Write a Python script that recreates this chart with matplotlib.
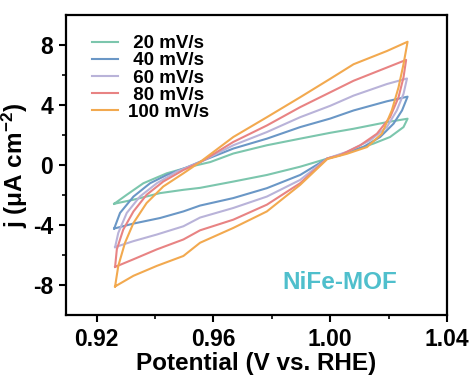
import matplotlib
matplotlib.use("Agg")
import matplotlib.pyplot as plt
import matplotlib.ticker as mticker

# -- Style --
plt.rcParams["font.family"] = ["Liberation Sans", "DejaVu Sans"]
plt.rcParams["font.weight"] = "bold"
plt.rcParams["axes.unicode_minus"] = False
plt.rcParams["mathtext.fontset"] = "custom"
plt.rcParams["mathtext.bf"] = "Liberation Sans:bold"
plt.rcParams["mathtext.rm"] = "Liberation Sans:bold"
plt.rcParams["mathtext.default"] = "bf"

# -- Data: CV loops (anodic branch left->right, then cathodic branch right->left) --
SCAN_LABELS = [" 20 mV/s", " 40 mV/s", " 60 mV/s", " 80 mV/s", "100 mV/s"]
COLORS = ["#7cc6ad", "#6a97c6", "#b9b3d9", "#e88383", "#f2a94f"]

v20 = [0.9260, 0.9303, 0.9360, 0.9440, 0.9520, 0.9589, 0.9668, 0.9783, 0.9897, 1.0000, 1.0080, 1.0194, 1.0265,
       1.0251, 1.0205, 1.0148, 1.0080, 1.0011, 0.9897, 0.9783, 0.9668, 0.9554, 0.9497, 0.9417, 0.9326, 0.9260]
j20 = [-2.58, -1.98, -1.21, -0.55, -0.11, 0.20, 0.77, 1.32, 1.76, 2.15, 2.42, 2.86, 3.09,
       2.53, 1.87, 1.43, 0.99, 0.55, -0.11, -0.66, -1.10, -1.52, -1.65, -1.87, -2.31, -2.58]

v40 = [0.9260, 0.9280, 0.9326, 0.9383, 0.9440, 0.9509, 0.9554, 0.9668, 0.9783, 0.9897, 1.0000, 1.0080, 1.0194, 1.0265,
       1.0246, 1.0217, 1.0171, 1.0114, 1.0034, 0.9990, 0.9897, 0.9783, 0.9668, 0.9554, 0.9497, 0.9417, 0.9326, 0.9260]
j40 = [-4.23, -3.19, -2.10, -1.21, -0.66, -0.15, 0.22, 1.10, 1.76, 2.53, 3.10, 3.64, 4.25, 4.56,
       3.64, 2.76, 1.87, 1.21, 0.66, 0.44, -0.66, -1.54, -2.20, -2.70, -3.09, -3.53, -3.90, -4.23]

v60 = [0.9263, 0.9274, 0.9303, 0.9348, 0.9406, 0.9474, 0.9554, 0.9668, 0.9783, 0.9897, 1.0000, 1.0080, 1.0194, 1.0263,
       1.0251, 1.0228, 1.0194, 1.0137, 1.0057, 0.9990, 0.9897, 0.9783, 0.9668, 0.9554, 0.9497, 0.9406, 0.9326, 0.9263]
j60 = [-5.47, -4.52, -3.19, -2.10, -1.21, -0.44, 0.20, 1.32, 2.20, 3.19, 3.95, 4.63, 5.40, 5.77,
       4.74, 3.64, 2.53, 1.65, 0.88, 0.44, -0.99, -2.10, -2.86, -3.50, -4.08, -4.63, -5.07, -5.47]

v80 = [0.9263, 0.9269, 0.9291, 0.9326, 0.9371, 0.9428, 0.9497, 0.9554, 0.9668, 0.9783, 0.9897, 1.0000, 1.0080, 1.0194, 1.0260,
       1.0251, 1.0234, 1.0205, 1.0160, 1.0103, 1.0034, 0.9990, 0.9897, 0.9783, 0.9668, 0.9554, 0.9497, 0.9406, 0.9326, 0.9263]
j80 = [-6.79, -5.62, -4.30, -3.09, -1.98, -1.10, -0.33, 0.18, 1.54, 2.64, 3.86, 4.85, 5.62, 6.50, 7.01,
       5.84, 4.52, 3.19, 2.09, 1.32, 0.66, 0.44, -1.21, -2.64, -3.64, -4.35, -4.96, -5.62, -6.28, -6.79]

v100 = [0.9263, 0.9274, 0.9297, 0.9326, 0.9371, 0.9428, 0.9497, 0.9554, 0.9668, 0.9783, 0.9897, 1.0000, 1.0080, 1.0194, 1.0265,
        1.0251, 1.0234, 1.0211, 1.0177, 1.0126, 1.0057, 0.9990, 0.9897, 0.9783, 0.9668, 0.9554, 0.9497, 0.9406, 0.9326, 0.9263]
j100 = [-8.09, -6.72, -5.18, -3.86, -2.53, -1.43, -0.55, 0.20, 1.87, 3.19, 4.52, 5.75, 6.72, 7.60, 8.22,
        6.72, 5.18, 3.64, 2.09, 1.20, 0.75, 0.40, -1.32, -3.09, -4.19, -5.18, -6.06, -6.72, -7.38, -8.09]

POTENTIALS = [v20, v40, v60, v80, v100]
CURRENTS = [j20, j40, j60, j80, j100]

X_TICKS = [0.92, 0.96, 1.00, 1.04]
Y_TICKS = [-8, -4, 0, 4, 8]

fig = plt.figure(figsize=(4.73, 3.76), dpi=100)
ax = fig.add_axes([0.139, 0.162, 0.806, 0.798])

for v, j, lab, col in zip(POTENTIALS, CURRENTS, SCAN_LABELS, COLORS):
    ax.plot(v, j, color=col, linewidth=1.5, label=lab)

ax.set_xlim(0.9094, 1.04)
ax.set_ylim(-10, 10)
ax.set_xticks(X_TICKS)
ax.set_yticks(Y_TICKS)
ax.xaxis.set_major_formatter(mticker.FormatStrFormatter("%.2f"))
ax.xaxis.set_minor_locator(mticker.MultipleLocator(0.02))
ax.yaxis.set_minor_locator(mticker.FixedLocator([-6, -2, 2, 6]))
ax.xaxis.set_minor_formatter(mticker.NullFormatter())
ax.tick_params(which="major", direction="out", length=5, width=1.5, labelsize=16.5, pad=4)
ax.tick_params(which="minor", direction="out", length=3, width=1.2)
for sp in ax.spines.values():
    sp.set_linewidth(1.6)

ax.set_xlabel("Potential (V vs. RHE)", fontsize=17.5, fontweight="bold", labelpad=1)
ax.set_ylabel("j (μA cm$^{-2}$)", fontsize=17.5, fontweight="bold", labelpad=2)

leg = ax.legend(loc="upper left", bbox_to_anchor=(0.069, 0.933), frameon=False,
                fontsize=13.5, handlelength=1.4, handletextpad=0.5,
                labelspacing=0.0, borderpad=0, borderaxespad=0)
for t in leg.get_texts():
    t.set_fontweight("bold")

ax.text(0.72, 0.107, "NiFe-MOF", transform=ax.transAxes, ha="center", va="center",
        fontsize=17.5, fontweight="bold", color="#4fbfcc")

fig.savefig("out.png", dpi=100)
